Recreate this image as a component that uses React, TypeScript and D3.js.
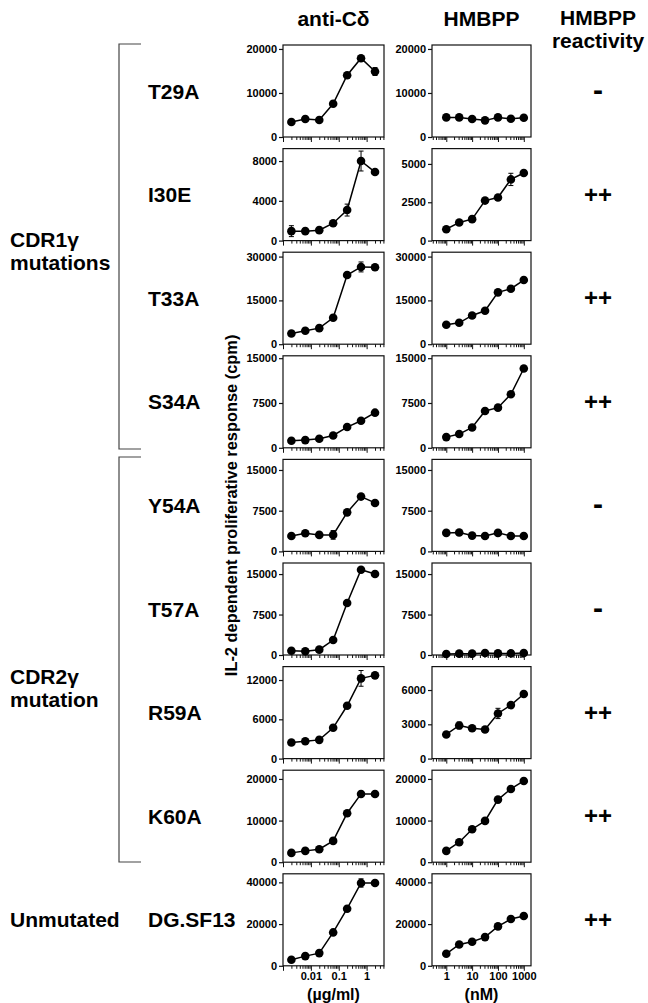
import React, { useRef, useEffect } from 'react';
import * as d3 from 'd3';

const mutants = ['T29A', 'I30E', 'T33A', 'S34A', 'Y54A', 'T57A', 'R59A', 'K60A', 'DG.SF13'];
const reactivity = ['-', '++', '++', '++', '-', '-', '++', '++', '++'];

const antiCdDose = [0.002, 0.0063, 0.02, 0.063, 0.2, 0.63, 2]; // ug/ml
const hmbppDose = [1, 3.16, 10, 31.6, 100, 316, 1000]; // nM

// cpm, one row per mutant
const antiCdCpm = [
  [3400, 4080, 3850, 7550, 14040, 17900, 14870],
  [950, 950, 1050, 1750, 3070, 8000, 6890],
  [3660, 4580, 5500, 9050, 23700, 26450, 26340],
  [1180, 1290, 1510, 2070, 3470, 4530, 5880],
  [2850, 3350, 3040, 3040, 7190, 10100, 8930],
  [800, 680, 990, 2780, 9630, 15800, 15000],
  [2450, 2660, 2860, 4700, 8070, 12250, 12710],
  [2240, 2720, 3120, 5120, 11760, 16400, 16400],
  [2880, 4640, 6080, 16000, 27360, 39700, 39700],
];
const antiCdErr = [
  [0, 0, 0, 0, 0, 0, 900],
  [550, 0, 0, 0, 600, 1000, 0],
  [0, 0, 0, 0, 0, 1700, 0],
  [0, 0, 0, 0, 0, 0, 0],
  [0, 0, 0, 800, 0, 0, 0],
  [0, 0, 0, 0, 0, 0, 0],
  [0, 0, 0, 0, 0, 1200, 0],
  [0, 0, 0, 0, 0, 0, 0],
  [0, 0, 0, 0, 0, 2000, 0],
];
const hmbppCpm = [
  [4450, 4450, 4080, 3780, 4450, 4150, 4380],
  [745, 1180, 1400, 2610, 2810, 3990, 4410],
  [6640, 7330, 9850, 11450, 17750, 19000, 21980],
  [1790, 2300, 3410, 6160, 6720, 8960, 13270],
  [3410, 3470, 2910, 2850, 3410, 2850, 2850],
  [190, 250, 250, 370, 300, 300, 370],
  [2110, 2900, 2660, 2550, 3950, 4680, 5650],
  [2720, 4800, 7920, 9920, 15040, 17600, 19520],
  [5760, 10240, 11520, 13760, 18880, 22400, 23840],
];
const hmbppErr = [
  [0, 0, 0, 0, 0, 0, 0],
  [0, 0, 0, 0, 0, 400, 0],
  [0, 0, 0, 0, 0, 0, 0],
  [0, 0, 0, 0, 0, 0, 0],
  [0, 0, 0, 0, 0, 0, 0],
  [0, 0, 0, 0, 0, 0, 0],
  [0, 300, 0, 0, 450, 0, 0],
  [0, 0, 0, 0, 0, 0, 0],
  [0, 0, 0, 0, 0, 0, 0],
];

const antiCdTicks = [
  [0, 10000, 20000], [0, 4000, 8000], [0, 15000, 30000], [0, 7500, 15000], [0, 7500, 15000],
  [0, 7500, 15000], [0, 6000, 12000], [0, 10000, 20000], [0, 20000, 40000],
];
const hmbppTicks = [
  [0, 10000, 20000], [0, 2500, 5000], [0, 15000, 30000], [0, 7500, 15000], [0, 7500, 15000],
  [0, 7500, 15000], [0, 3000, 6000], [0, 10000, 20000], [0, 20000, 40000],
];
const antiCdTop = [20900, 9250, 31500, 15400, 16950, 17050, 14050, 22100, 44100];
const hmbppTop = [20900, 6000, 31500, 15400, 16950, 17050, 8050, 22100, 44100];

const antiCdLabels = [0.01, 0.1, 1];
const hmbppLabels = [1, 10, 100, 1000];

const font = '"Liberation Sans", Arial, Helvetica, sans-serif';

export default function App() {
  const svgEl = useRef(null);
  const width = 648;
  const height = 1003;
  const firstZero = 137;
  const pitch = 103.6;
  const plotH = 92;

  useEffect(() => {
    const svg = d3.select(svgEl.current);
    svg.selectAll('*').remove();
    svg.attr('width', width).attr('height', height);

    const cols = [
      { x0: 283, x1: 384, domain: [0.001, 4.2], dose: antiCdDose, cpm: antiCdCpm, err: antiCdErr, ticks: antiCdTicks, top: antiCdTop, labels: antiCdLabels, unit: '(\u00b5g/ml)', fmt: (d) => String(d) },
      { x0: 432, x1: 531, domain: [0.28, 1900], dose: hmbppDose, cpm: hmbppCpm, err: hmbppErr, ticks: hmbppTicks, top: hmbppTop, labels: hmbppLabels, unit: '(nM)', fmt: (d) => String(d) },
    ];

    const text = (x, y, str, size, anchor = 'start') =>
      svg.append('text')
        .attr('x', x).attr('y', y)
        .attr('font-family', font).attr('font-weight', 'bold')
        .attr('font-size', size).attr('text-anchor', anchor)
        .attr('fill', '#000').text(str);

    // headers
    text(333.5, 26, 'anti-C\u03b4', 21, 'middle');
    text(481.5, 26, 'HMBPP', 21, 'middle');
    text(598, 25, 'HMBPP', 21, 'middle');
    text(598, 48, 'reactivity', 21, 'middle');

    // brackets
    const bracket = (y0, y1) => {
      svg.append('path')
        .attr('d', `M141,${y0}H119V${y1}H141`)
        .attr('fill', 'none').attr('stroke', '#444').attr('stroke-width', 1.2);
    };
    bracket(44, 449);
    bracket(457, 862);

    text(10, 247, 'CDR1\u03b3', 21);
    text(10, 270, 'mutations', 21);
    text(10, 684, 'CDR2\u03b3', 21);
    text(10, 707, 'mutation', 21);
    text(10, firstZero + 8 * pitch - plotH / 2 + 7.5, 'Unmutated', 21);

    // y title
    const midY = (firstZero - plotH + firstZero + 8 * pitch) / 2;
    svg.append('text')
      .attr('transform', `translate(237,${midY}) rotate(-90)`)
      .attr('font-family', font).attr('font-weight', 'bold')
      .attr('font-size', 16.4).attr('text-anchor', 'middle')
      .text('IL-2 dependent proliferative response (cpm)');

    mutants.forEach((name, i) => {
      const zero = firstZero + i * pitch;
      const top = zero - plotH;
      const cy = zero - plotH / 2;
      text(148, cy + 7.5, name, 21);
      if (reactivity[i] === '-') text(598, cy + 9, '-', 30, 'middle');
      else text(598, cy + 8, reactivity[i], 24, 'middle');

      cols.forEach((c) => {
        const x = d3.scaleLog().domain(c.domain).range([c.x0, c.x1]);
        const y = d3.scaleLinear().domain([0, c.top[i]]).range([zero, top]);
        const g = svg.append('g');

        g.append('rect')
          .attr('x', c.x0).attr('y', top)
          .attr('width', c.x1 - c.x0).attr('height', plotH)
          .attr('fill', 'none').attr('stroke', '#111').attr('stroke-width', 1.2);

        const yAxis = g.append('g')
          .attr('transform', `translate(${c.x0},0)`)
          .call(d3.axisLeft(y).tickValues(c.ticks[i]).tickSize(4).tickPadding(2).tickFormat(d3.format('d')));
        yAxis.select('.domain').remove();
        yAxis.selectAll('line').attr('stroke', '#111').attr('stroke-width', 1.2);
        yAxis.selectAll('text')
          .attr('font-family', font).attr('font-weight', 'bold')
          .attr('font-size', 11).attr('fill', '#000');

        const last = i === mutants.length - 1;
        const isMajor = (d) => Math.abs(Math.log10(d) - Math.round(Math.log10(d))) < 1e-6;
        const xAxis = g.append('g')
          .attr('transform', `translate(0,${zero})`)
          .call(
            d3.axisBottom(x)
              .tickValues(x.ticks())
              .tickSize(3)
              .tickPadding(3)
              .tickFormat((d) => (last && c.labels.some((l) => Math.abs(l - d) < 1e-9) ? c.fmt(d) : ''))
          );
        xAxis.select('.domain').remove();
        xAxis.selectAll('.tick line')
          .attr('y2', (d) => (isMajor(d) ? 5 : 3))
          .attr('stroke', '#111').attr('stroke-width', 1);
        xAxis.selectAll('text')
          .attr('font-family', font).attr('font-weight', 'bold')
          .attr('font-size', 11).attr('fill', '#000');

        const pts = c.dose.map((d, k) => ({ d, v: c.cpm[i][k], e: c.err[i][k] }));

        pts.filter((p) => p.e > 0).forEach((p) => {
          const px = x(p.d);
          g.append('path')
            .attr('d', `M${px - 2.5},${y(p.v + p.e)}H${px + 2.5}M${px},${y(p.v + p.e)}V${y(p.v - p.e)}M${px - 2.5},${y(p.v - p.e)}H${px + 2.5}`)
            .attr('stroke', '#000').attr('stroke-width', 1).attr('fill', 'none');
        });

        const line = d3.line().x((p) => x(p.d)).y((p) => y(p.v));
        g.append('path')
          .attr('d', line(pts))
          .attr('fill', 'none').attr('stroke', '#000').attr('stroke-width', 1.5);

        g.selectAll('circle.pt').data(pts).enter().append('circle')
          .attr('cx', (p) => x(p.d)).attr('cy', (p) => y(p.v))
          .attr('r', 4.3).attr('fill', '#000');

        if (last) {
          text((c.x0 + c.x1) / 2, 1000, c.unit, 16, 'middle');
        }
      });
    });
  }, []);

  return (
    <div style={{ position: 'absolute', left: 0, top: 0 }}>
      <svg ref={svgEl}></svg>
    </div>
  );
}
